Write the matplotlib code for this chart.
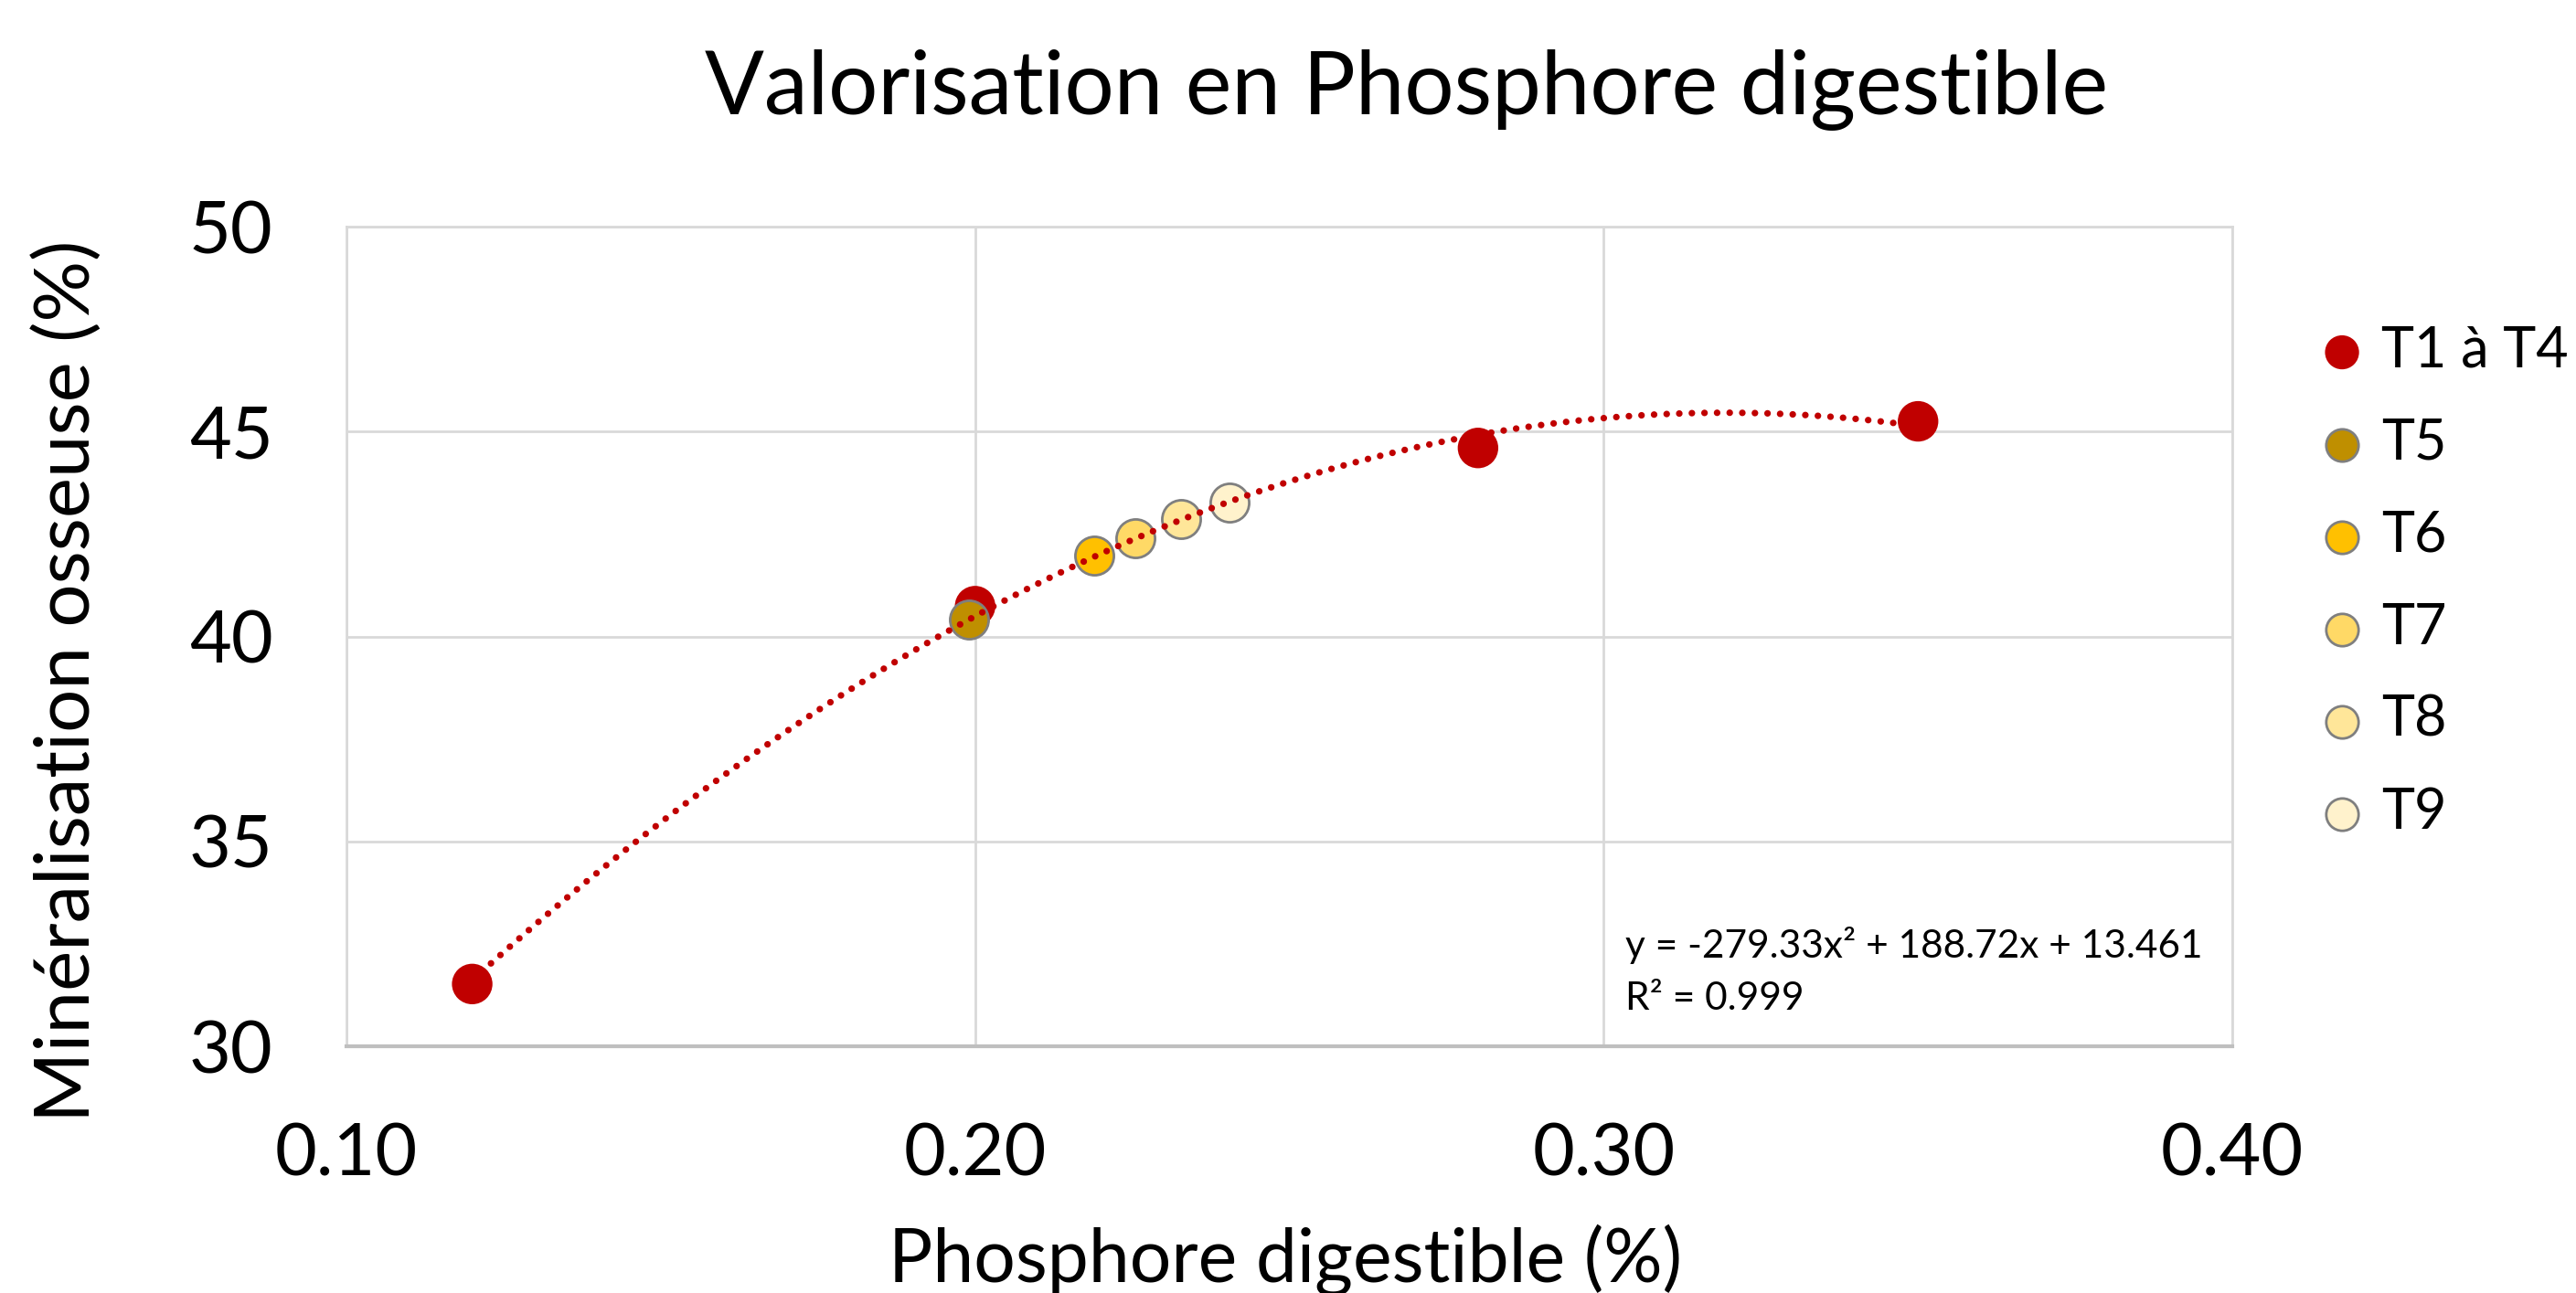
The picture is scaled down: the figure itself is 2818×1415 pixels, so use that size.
import numpy as np
import matplotlib
matplotlib.use("Agg")
import matplotlib.pyplot as plt

plt.rcParams['font.family'] = ['Lato', 'DejaVu Sans']

# data
seriesNames = ['T1 à T4', 'T5', 'T6', 'T7', 'T8', 'T9']
seriesX = [[0.12, 0.20, 0.28, 0.35], [0.199], [0.219], [0.2255], [0.2327], [0.2404]]
seriesY = [[31.52, 40.74, 44.6, 45.25], [40.42], [41.98], [42.40], [42.86], [43.27]]
seriesColors = ['#C00000', '#BF8F00', '#FFC000', '#FFD966', '#FFE699', '#FFF2CC']
trendLines = ['y = -279.33x² + 188.72x + 13.461', 'R² = 0.999']
xTicks = [0.10, 0.20, 0.30, 0.40]
yTicks = [30, 35, 40, 45, 50]

fig = plt.figure(figsize=(28.18, 14.15), dpi=100)
ax = fig.add_axes([0.1345, 0.1908, 0.8666 - 0.1345, 0.8247 - 0.1908])

#grid and frame
ax.set_xlim(0.10, 0.40)
ax.set_ylim(30, 50)
ax.set_xticks(xTicks)
ax.set_yticks(yTicks)
ax.set_xticklabels(['%.2f' % t for t in xTicks])
ax.grid(True, color='#D9D9D9', linewidth=2)
ax.set_axisbelow(True)
for s in ax.spines.values():
    s.set_color('#D9D9D9')
    s.set_linewidth(2)
ax.spines['bottom'].set_color('#BFBFBF')
ax.spines['bottom'].set_linewidth(3)
ax.tick_params(length=0, labelsize=57)
ax.tick_params(axis='x', pad=60)
ax.tick_params(axis='y', pad=58)

# trendline: quadratic fit over all the points
allX = np.concatenate([np.array(v) for v in seriesX])
allY = np.concatenate([np.array(v) for v in seriesY])
coefs = np.polyfit(allX, allY, 2)
xs = np.linspace(min(seriesX[0]), max(seriesX[0]), 300)
ys = np.polyval(coefs, xs)

# points
handles = []
for i in range(len(seriesNames)):
    if i == 0:
        h = ax.scatter(seriesX[i], seriesY[i], s=1020, color=seriesColors[i], zorder=3,
                       edgecolors='none', label=seriesNames[i])
    else:
        h = ax.scatter(seriesX[i], seriesY[i], s=920, color=seriesColors[i], zorder=3,
                       edgecolors='#7F7F7F', linewidths=2, label=seriesNames[i])
    handles.append(h)

ax.plot(xs, ys, color='#C00000', linewidth=5.2, linestyle=(0, (0.01, 1.9)),
        dash_capstyle='round', zorder=4)

ax.text(0.3035, 32.16, trendLines[0], fontsize=30.5, va='baseline', ha='left')
ax.text(0.3035, 30.89, trendLines[1], fontsize=30.5, va='baseline', ha='left')

fig.text(0.5458, 0.9117, 'Valorisation en Phosphore digestible', fontsize=69,
         ha='center', va='baseline')
fig.text(0.4990, 0.0085, 'Phosphore digestible (%)', fontsize=58,
         ha='center', va='baseline')
fig.text(0.0266, 0.473, 'Minéralisation osseuse (%)', fontsize=60, rotation=90,
         ha='center', va='center')

leg = fig.legend(handles=handles, loc='upper left', bbox_to_anchor=(0.9005, 0.7487),
                 frameon=False, fontsize=44, markerscale=0.84, labelspacing=0.72,
                 handletextpad=0.3, handlelength=0.8, borderaxespad=0, borderpad=0)

fig.savefig('out.png', dpi=100)
